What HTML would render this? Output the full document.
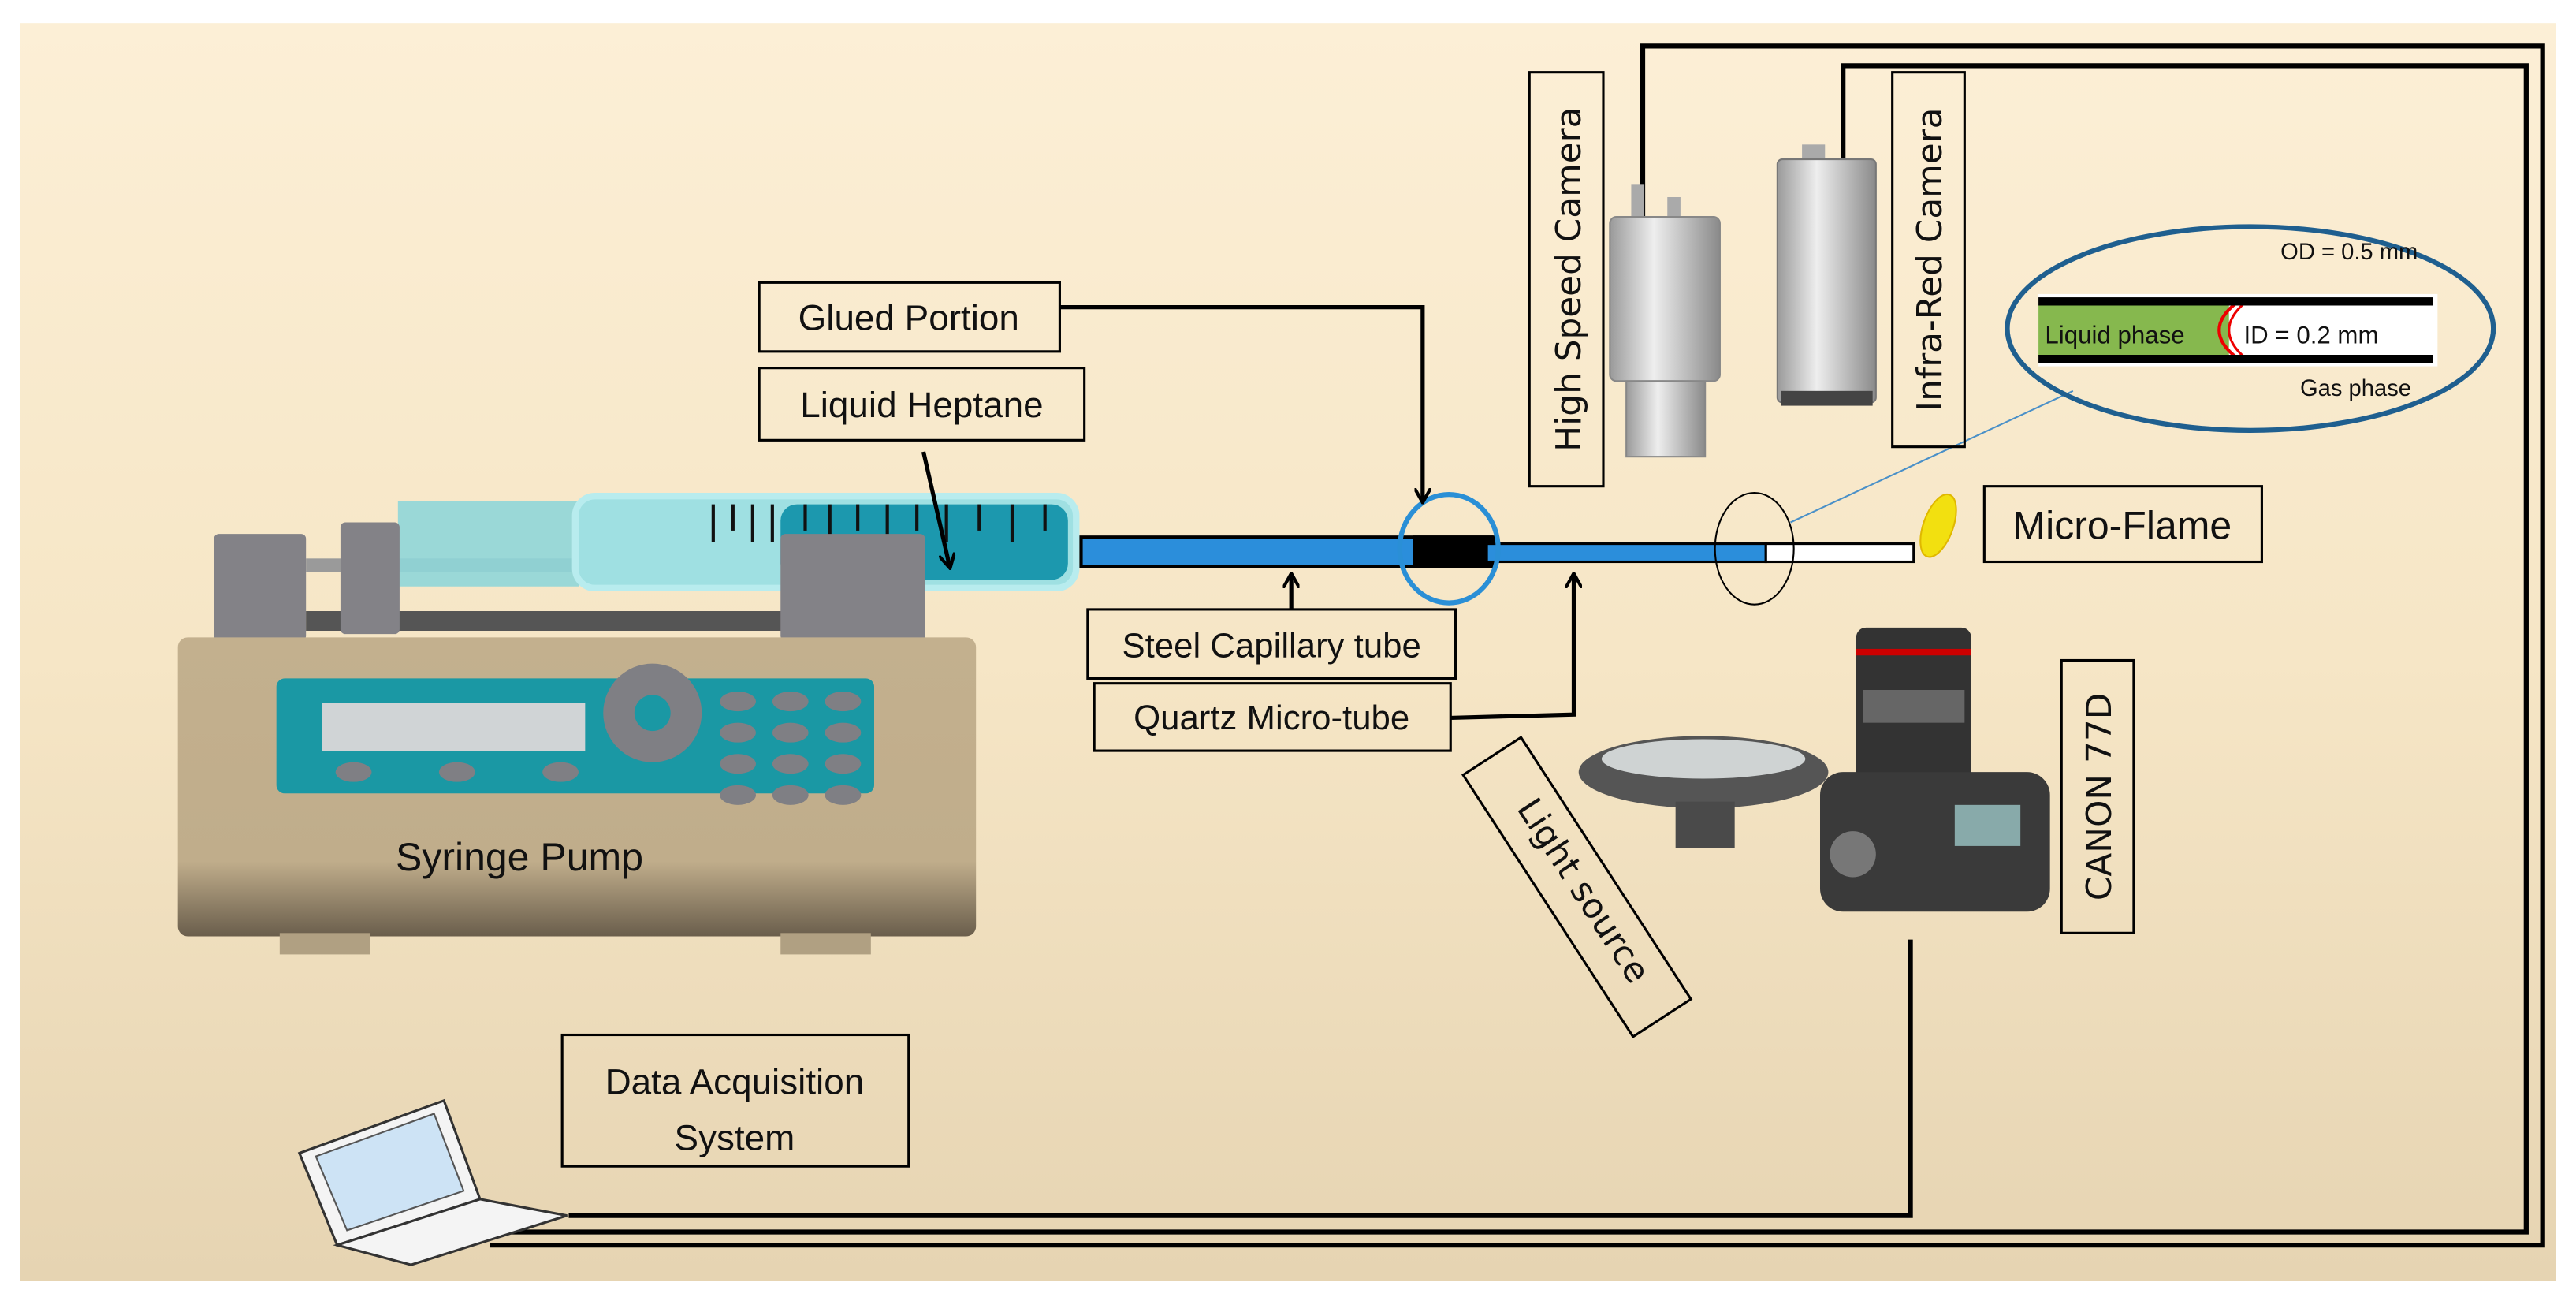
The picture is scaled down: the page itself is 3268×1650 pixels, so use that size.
<!DOCTYPE html>
<html><head><meta charset="utf-8"><style>
html,body{margin:0;padding:0;background:#fff}
svg{display:block}
text{font-family:"Liberation Sans",sans-serif;fill:#111}
</style></head><body>
<svg width="3268" height="1650" viewBox="0 0 1568 792" xmlns="http://www.w3.org/2000/svg">
<defs>
<linearGradient id="bg" x1="0" y1="0" x2="0" y2="1"><stop offset="0" stop-color="#fcefd6"/><stop offset="0.5" stop-color="#f6e6c6"/><stop offset="1" stop-color="#e6d4b2"/></linearGradient>
<linearGradient id="base" x1="0" y1="0" x2="0" y2="1"><stop offset="0" stop-color="#c3b08e"/><stop offset="0.75" stop-color="#c0ad8b"/><stop offset="1" stop-color="#6a5e4c"/></linearGradient>
<linearGradient id="silver" x1="0" y1="0" x2="1" y2="0"><stop offset="0" stop-color="#9a9a9a"/><stop offset="0.4" stop-color="#eeeeee"/><stop offset="1" stop-color="#8a8a8a"/></linearGradient>
<marker id="ah" markerWidth="10" markerHeight="10" refX="8" refY="5" orient="auto" markerUnits="userSpaceOnUse"><path d="M0,0 L9,5 L0,10" fill="none" stroke="#000" stroke-width="2"/></marker>
</defs>
<rect x="12" y="14" width="1544" height="766" fill="url(#bg)"/>

<g fill="none" stroke="#000" stroke-width="3">
<polyline points="1000,135 1000,28 1548,28 1548,758 298,758"/>
<polyline points="1122,97 1122,40 1538,40 1538,750 300,750"/>
<polyline points="1163,572 1163,740 346,740"/>
</g>

<rect x="130" y="325" width="56" height="65" fill="#838287" rx="3"/>
<rect x="186" y="340" width="290" height="8" fill="#9a9a9a"/>
<rect x="186" y="372" width="290" height="12" fill="#555"/>
<rect x="242" y="305" width="110" height="52" fill="#8fd6d8" opacity="0.9"/>
<rect x="350" y="302" width="305" height="56" rx="12" fill="#9fe0e2" stroke="#b8ecee" stroke-width="4"/>
<rect x="475" y="307" width="175" height="46" rx="10" fill="#1c98ae"/>
<g stroke="#111" stroke-width="2">
<line x1="434" y1="307" x2="434" y2="330"/><line x1="446" y1="307" x2="446" y2="323"/><line x1="458" y1="307" x2="458" y2="330"/><line x1="470" y1="307" x2="470" y2="330"/><line x1="490" y1="307" x2="490" y2="323"/><line x1="505" y1="307" x2="505" y2="330"/><line x1="522" y1="307" x2="522" y2="323"/><line x1="540" y1="307" x2="540" y2="330"/><line x1="558" y1="307" x2="558" y2="323"/><line x1="576" y1="307" x2="576" y2="330"/><line x1="596" y1="307" x2="596" y2="323"/><line x1="616" y1="307" x2="616" y2="330"/><line x1="636" y1="307" x2="636" y2="323"/>
</g>
<rect x="207" y="318" width="36" height="68" fill="#838287" rx="3"/>
<rect x="475" y="325" width="88" height="65" fill="#838287" rx="3"/>
<rect x="108" y="388" width="486" height="182" rx="6" fill="url(#base)"/>
<rect x="170" y="568" width="55" height="13" fill="#b0a082"/>
<rect x="475" y="568" width="55" height="13" fill="#b0a082"/>
<rect x="168" y="413" width="364" height="70" rx="5" fill="#1a98a4"/>
<rect x="196" y="428" width="160" height="29" fill="#d0d4d6"/>
<g fill="#7f7f84"><ellipse cx="215" cy="470" rx="11" ry="6"/><ellipse cx="278" cy="470" rx="11" ry="6"/><ellipse cx="341" cy="470" rx="11" ry="6"/>
<circle cx="397" cy="434" r="30"/>
<g><ellipse cx="449" cy="427" rx="11" ry="6"/><ellipse cx="481" cy="427" rx="11" ry="6"/><ellipse cx="513" cy="427" rx="11" ry="6"/><ellipse cx="449" cy="446" rx="11" ry="6"/><ellipse cx="481" cy="446" rx="11" ry="6"/><ellipse cx="513" cy="446" rx="11" ry="6"/><ellipse cx="449" cy="465" rx="11" ry="6"/><ellipse cx="481" cy="465" rx="11" ry="6"/><ellipse cx="513" cy="465" rx="11" ry="6"/><ellipse cx="449" cy="484" rx="11" ry="6"/><ellipse cx="481" cy="484" rx="11" ry="6"/><ellipse cx="513" cy="484" rx="11" ry="6"/></g></g>
<circle cx="397" cy="434" r="11" fill="#1a98a4"/>
<text x="316" y="530" font-size="24" text-anchor="middle">Syringe Pump</text>

<rect x="658" y="327" width="250" height="18" fill="#2b8edb" stroke="#000" stroke-width="2"/>
<rect x="860" y="326" width="50" height="19" fill="#000"/>
<rect x="905" y="331" width="170" height="11" fill="#2b8edb" stroke="#000" stroke-width="1.5"/>
<rect x="1075" y="331" width="90" height="11" fill="#fff" stroke="#000" stroke-width="1.5"/>
<ellipse cx="882" cy="334" rx="30" ry="33" fill="none" stroke="#2a8fd6" stroke-width="3"/>
<ellipse cx="1068" cy="334" rx="24" ry="34" fill="none" stroke="#000" stroke-width="1"/>
<ellipse cx="1180" cy="320" rx="9" ry="20" transform="rotate(20 1180 320)" fill="#f2e010" stroke="#e0b800"/>
<line x1="1090" y1="318" x2="1262" y2="238" stroke="#4a90c8" stroke-width="1"/>

<ellipse cx="1370" cy="200" rx="148" ry="62" fill="none" stroke="#1f5f8f" stroke-width="3"/>
<rect x="1241" y="179" width="243" height="44" fill="#fff"/>
<rect x="1241" y="186" width="116" height="31" fill="#86b84e"/>
<path d="M1362,184 Q1340,201 1362,218" fill="none" stroke="#e00" stroke-width="2"/>
<path d="M1367,184 Q1347,201 1367,218" fill="none" stroke="#e00" stroke-width="1.5"/>
<rect x="1241" y="181" width="240" height="5" fill="#000"/>
<rect x="1241" y="216" width="240" height="5" fill="#000"/>
<text x="1245" y="209" font-size="15">Liquid phase</text>
<text x="1366" y="209" font-size="15">ID = 0.2 mm</text>
<text x="1472" y="158" font-size="14" text-anchor="end">OD = 0.5 mm</text>
<text x="1468" y="241" font-size="14" text-anchor="end">Gas phase</text>

<rect x="993" y="112" width="8" height="20" fill="#aaa"/><rect x="1015" y="120" width="8" height="14" fill="#aaa"/>
<rect x="980" y="132" width="67" height="100" rx="4" fill="url(#silver)" stroke="#888"/>
<rect x="990" y="232" width="48" height="46" fill="url(#silver)" stroke="#888"/>
<rect x="1097" y="88" width="14" height="12" fill="#aaa"/>
<rect x="1082" y="97" width="60" height="148" rx="3" fill="url(#silver)" stroke="#777"/>
<rect x="1084" y="238" width="56" height="9" fill="#444"/>

<ellipse cx="1037" cy="470" rx="76" ry="22" fill="#555"/>
<ellipse cx="1037" cy="462" rx="62" ry="12" fill="#cfd3d3"/>
<rect x="1020" y="488" width="36" height="28" fill="#4a4a4a"/>
<rect x="1130" y="382" width="70" height="95" rx="6" fill="#333"/>
<rect x="1130" y="395" width="70" height="4" fill="#c00"/>
<rect x="1134" y="420" width="62" height="20" fill="#666"/>
<rect x="1108" y="470" width="140" height="85" rx="14" fill="#3a3a3a"/>
<circle cx="1128" cy="520" r="14" fill="#777"/>
<rect x="1190" y="490" width="40" height="25" fill="#8aa"/>

<g fill="none" stroke="#000" stroke-width="1.5">
<rect x="462" y="172" width="183" height="42"/>
<rect x="462" y="224" width="198" height="44"/>
<rect x="662" y="371" width="224" height="42"/>
<rect x="666" y="416" width="217" height="41"/>
<rect x="931" y="44" width="45" height="252"/>
<rect x="1152" y="44" width="44" height="228"/>
<rect x="1208" y="296" width="169" height="46"/>
<rect x="1255" y="402" width="44" height="166"/>
<rect x="342" y="630" width="211" height="80"/>
<rect x="-95" y="-21" width="190" height="42" transform="translate(960 540) rotate(57)"/>
</g>
<g fill="none" stroke="#000" stroke-width="2.5">
<polyline points="645,187 866,187 866,305" marker-end="url(#ah)"/>
<line x1="562" y1="275" x2="578" y2="345" marker-end="url(#ah)"/>
<line x1="786" y1="371" x2="786" y2="350" marker-end="url(#ah)"/>
<polyline points="883,437 958,435 958,350" marker-end="url(#ah)"/>
</g>
<text x="553" y="201" font-size="22" text-anchor="middle">Glued Portion</text>
<text x="561" y="254" font-size="22" text-anchor="middle">Liquid Heptane</text>
<text x="774" y="400" font-size="21" text-anchor="middle">Steel Capillary tube</text>
<text x="774" y="444" font-size="21" text-anchor="middle">Quartz Micro-tube</text>
<text x="1292" y="328" font-size="24" text-anchor="middle">Micro-Flame</text>
<text x="447" y="666" font-size="22" text-anchor="middle">Data Acquisition</text>
<text x="447" y="700" font-size="22" text-anchor="middle">System</text>
<text transform="translate(962 170) rotate(-90)" font-size="21" text-anchor="middle" style="font-family:'DejaVu Sans',sans-serif">High Speed  Camera</text>
<text transform="translate(1182 158) rotate(-90)" font-size="21" text-anchor="middle" style="font-family:'DejaVu Sans',sans-serif">Infra-Red Camera</text>
<text transform="translate(1285 485) rotate(-90)" font-size="21" text-anchor="middle" style="font-family:'DejaVu Sans',sans-serif">CANON 77D</text>
<text transform="translate(958 546) rotate(57)" font-size="21" text-anchor="middle" style="font-family:'DejaVu Sans',sans-serif">Light source</text>

<path d="M182,702 L270,670 L292,730 L205,758 Z" fill="#f4f4f4" stroke="#333" stroke-width="1.5"/>
<path d="M192,704 L264,678 L282,725 L211,749 Z" fill="#cde3f5" stroke="#555"/>
<path d="M205,758 L292,730 L345,740 L250,770 Z" fill="#f4f4f4" stroke="#333" stroke-width="1.5"/>
</svg>
</body></html>
